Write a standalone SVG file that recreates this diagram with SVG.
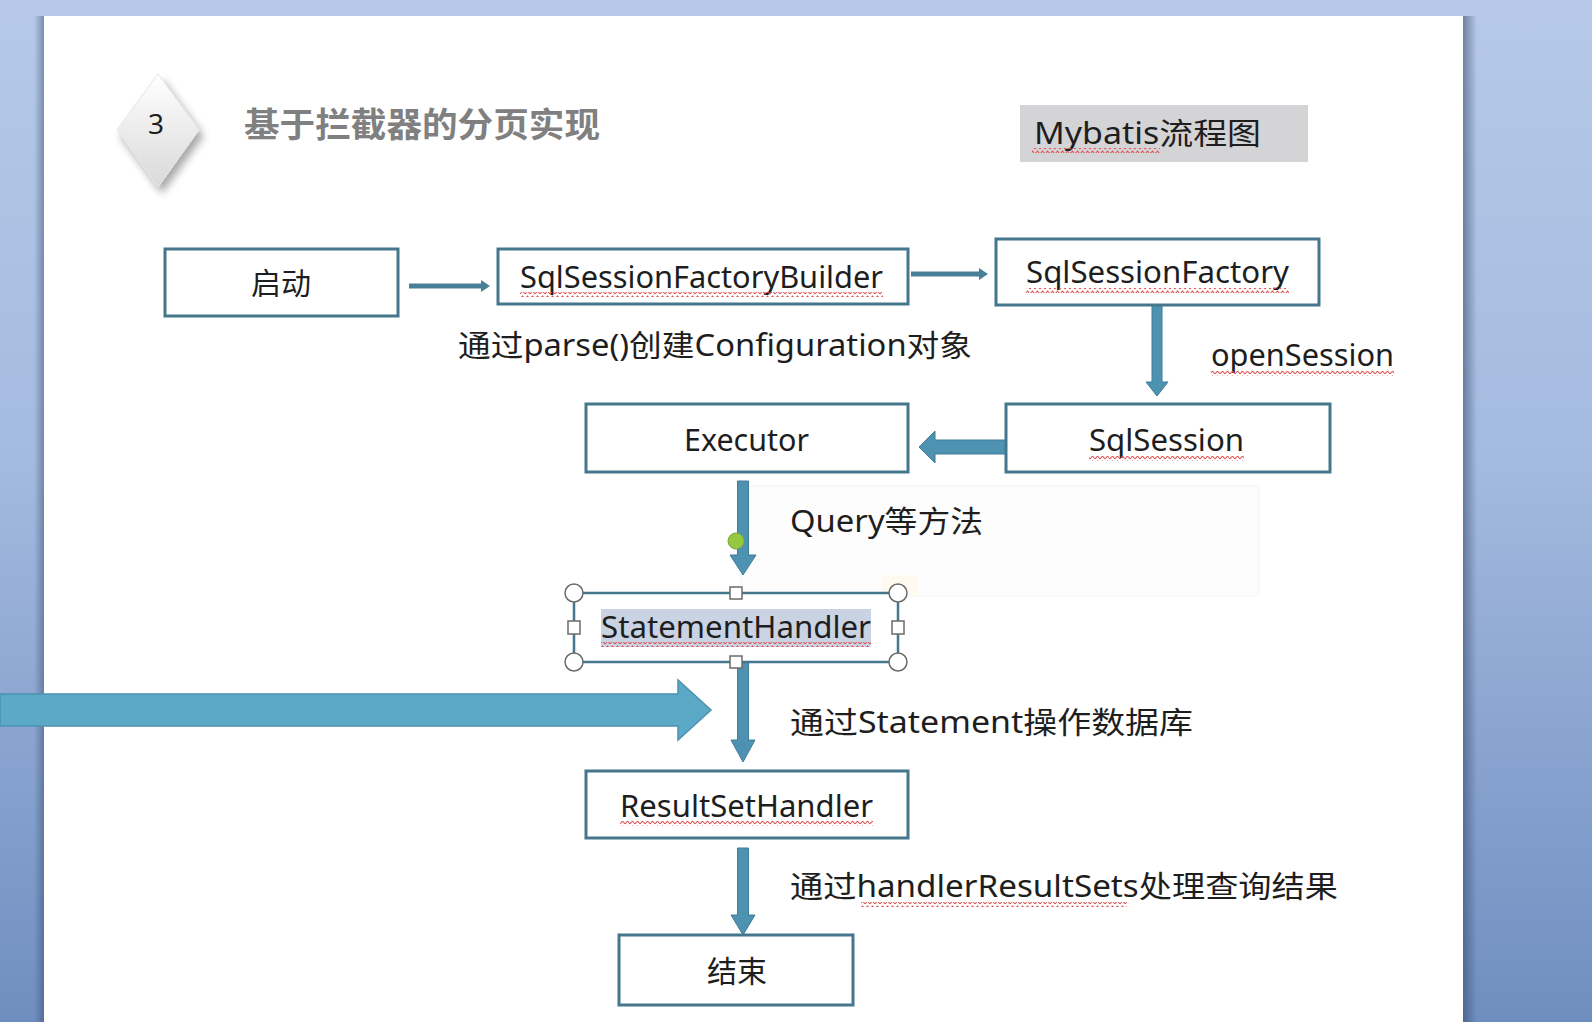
<svg xmlns="http://www.w3.org/2000/svg" width="1592" height="1022" viewBox="0 0 1592 1022">
<defs>
<style>
.node{fill:#ffffff;stroke:#44768c;stroke-width:3}
.t{font-family:"Noto Sans","Noto Sans CJK SC",sans-serif;fill:#1e1e1e}
.box{font-size:30px}
.lbl{font-size:30px}
.conn{fill:#4e92b2;stroke:#3f7d99;stroke-width:1}
.thin{fill:#4a7f98;stroke:none}
.sq{fill:url(#squig)}
.hcirc{fill:#ffffff;stroke:#6b6b6b;stroke-width:1.5}
.hsq{fill:#ffffff;stroke:#6b6b6b;stroke-width:1.5}
</style>
<linearGradient id="bg" x1="0" y1="0" x2="0" y2="1">
<stop offset="0" stop-color="#b6c9e8"/>
<stop offset="0.45" stop-color="#a4badf"/>
<stop offset="1" stop-color="#6f8ec0"/>
</linearGradient>
<linearGradient id="dia" x1="0" y1="0" x2="0" y2="1">
<stop offset="0" stop-color="#ffffff"/>
<stop offset="1" stop-color="#d9d9db"/>
</linearGradient>
<linearGradient id="shR" x1="0" y1="0" x2="1" y2="0">
<stop offset="0" stop-color="#34476a" stop-opacity="0.55"/>
<stop offset="1" stop-color="#34476a" stop-opacity="0"/>
</linearGradient>
<linearGradient id="shL" x1="1" y1="0" x2="0" y2="0">
<stop offset="0" stop-color="#34476a" stop-opacity="0.45"/>
<stop offset="1" stop-color="#34476a" stop-opacity="0"/>
</linearGradient>
<filter id="dsh" x="-50%" y="-50%" width="200%" height="200%">
<feGaussianBlur in="SourceAlpha" stdDeviation="4"/>
<feOffset dx="4" dy="6" result="b"/>
<feComponentTransfer><feFuncA type="linear" slope="0.35"/></feComponentTransfer>
<feMerge><feMergeNode/><feMergeNode in="SourceGraphic"/></feMerge>
</filter>
<pattern id="squig" width="5" height="5" patternUnits="userSpaceOnUse">
<path d="M0,4 L2.5,1 L5,4" fill="none" stroke="#e04c4c" stroke-width="1.1"/>
</pattern>
</defs>

<!-- window background -->
<rect x="0" y="0" width="1592" height="1022" fill="url(#bg)"/>
<rect x="1463" y="16" width="14" height="1006" fill="url(#shR)"/>
<rect x="34" y="16" width="10" height="1006" fill="url(#shL)"/>
<!-- slide -->
<rect x="44" y="16" width="1419" height="1010" fill="#ffffff"/>

<!-- title -->
<g id="title">
<polygon points="158,74 199,130 158,187 117,130" fill="url(#dia)" stroke="#e4e4e6" stroke-width="1" stroke-linejoin="round" filter="url(#dsh)"/>
<text x="156" y="134" class="t" font-size="28" text-anchor="middle" fill="#333333">3</text>
<text x="244" y="137" class="t" font-size="34" font-weight="bold" style="fill:#808080" textLength="356" lengthAdjust="spacingAndGlyphs">基于拦截器的分页实现</text>
</g>

<g id="mybatis-label">
<rect x="1020" y="105" width="288" height="57" fill="#d4d4d6"/>
<text x="1034" y="144" class="t" font-size="30" textLength="227" lengthAdjust="spacingAndGlyphs">Mybatis流程图</text>
<rect x="1032" y="148" width="128" height="5" class="sq"/>
</g>

<!-- faint mini toolbar -->
<g id="mini-toolbar" opacity="0.4">
<rect x="741" y="486" width="518" height="110" rx="3" fill="#fcfcfc" stroke="#ececec" stroke-width="1.5"/>
<rect x="881" y="575" width="36" height="20" fill="#fff4dc"/>
</g>

<!-- connectors -->
<g id="connectors">
<polygon class="thin" points="409,283.5 481,283.5 481,280 490,286 481,292 481,288.5 409,288.5"/>
<polygon class="thin" points="911,271.5 979,271.5 979,268 988,274 979,280 979,276.5 911,276.5"/>
<polygon class="conn" points="1152,305 1162,305 1162,382 1168,382 1157,396 1146,382 1152,382"/>
<polygon class="conn" points="1006,440 935,440 935,431 919,447 935,463 935,454 1006,454"/>
<polygon class="conn" points="737.5,481 748.5,481 748.5,555 756,555 743,575 730,555 737.5,555"/>
<polygon class="conn" points="737.5,662 748.5,662 748.5,740 755,740 743,762 731,740 737.5,740"/>
<polygon class="conn" points="737.5,848 748.5,848 748.5,915 755,915 743,935 731,915 737.5,915"/>
<polygon points="0,694 678,694 678,680 711,710 678,740 678,726 0,726" fill="#5ba8c7" stroke="#4b93b0" stroke-width="1.5"/>
</g>

<!-- nodes -->
<g id="node-start">
<rect class="node" x="165" y="249" width="233" height="67"/>
<text x="281" y="294" class="t box" font-size="34" text-anchor="middle">启动</text>
</g>
<g id="node-ssfb">
<rect class="node" x="498" y="249" width="410" height="55"/>
<text x="520" y="288" class="t box" textLength="363" lengthAdjust="spacingAndGlyphs">SqlSessionFactoryBuilder</text>
<rect x="520" y="292" width="363" height="5" class="sq"/>
</g>
<g id="node-ssf">
<rect class="node" x="996" y="239" width="323" height="66"/>
<text x="1026" y="283" class="t box" textLength="263" lengthAdjust="spacingAndGlyphs">SqlSessionFactory</text>
<rect x="1026" y="288" width="263" height="5" class="sq"/>
</g>
<g id="node-sqlsession">
<rect class="node" x="1006" y="404" width="324" height="68"/>
<text x="1089" y="451" class="t box" textLength="155" lengthAdjust="spacingAndGlyphs">SqlSession</text>
<rect x="1089" y="456" width="155" height="5" class="sq"/>
</g>
<g id="node-executor">
<rect class="node" x="586" y="404" width="322" height="68"/>
<text x="684" y="451" class="t box" textLength="125" lengthAdjust="spacingAndGlyphs">Executor</text>
</g>
<g id="node-statementhandler">
<rect class="node" x="574" y="593" width="324" height="69" style="stroke-width:2.5"/>
<rect x="601" y="609" width="270" height="38" fill="#c9d3e3"/>
<text x="601" y="638" class="t box" textLength="270" lengthAdjust="spacingAndGlyphs">StatementHandler</text>
<rect x="601" y="642" width="270" height="5" class="sq"/>
<circle class="hcirc" cx="574" cy="593" r="9"/>
<circle class="hcirc" cx="898" cy="593" r="9"/>
<circle class="hcirc" cx="574" cy="662" r="9"/>
<circle class="hcirc" cx="898" cy="662" r="9"/>
<rect class="hsq" x="730" y="587" width="12" height="12"/>
<rect class="hsq" x="730" y="656" width="12" height="12"/>
<rect class="hsq" x="568" y="621" width="12" height="13"/>
<rect class="hsq" x="892" y="621" width="12" height="13"/>
<circle cx="736" cy="541" r="8" fill="#94c840" stroke="#7aa83a" stroke-width="1"/>
</g>
<g id="node-resultsethandler">
<rect class="node" x="586" y="771" width="322" height="67"/>
<text x="620" y="817" class="t box" textLength="253" lengthAdjust="spacingAndGlyphs">ResultSetHandler</text>
<rect x="620" y="821" width="253" height="5" class="sq"/>
</g>
<g id="node-end">
<rect class="node" x="619" y="935" width="234" height="70"/>
<text x="737" y="982" class="t box" font-size="34" text-anchor="middle">结束</text>
</g>

<!-- labels -->
<g id="labels">
<text x="458" y="356" class="t lbl" textLength="514" lengthAdjust="spacingAndGlyphs">通过parse()创建Configuration对象</text>
<text x="1211" y="366" class="t lbl" textLength="183" lengthAdjust="spacingAndGlyphs">openSession</text>
<rect x="1211" y="371" width="183" height="5" class="sq"/>
<text x="790" y="532" class="t lbl" textLength="193" lengthAdjust="spacingAndGlyphs">Query等方法</text>
<text x="790" y="733" class="t lbl" textLength="403" lengthAdjust="spacingAndGlyphs">通过Statement操作数据库</text>
<text x="790" y="897" class="t lbl" textLength="548" lengthAdjust="spacingAndGlyphs">通过handlerResultSets处理查询结果</text>
<rect x="861" y="902" width="266" height="5" class="sq"/>
</g>
</svg>
